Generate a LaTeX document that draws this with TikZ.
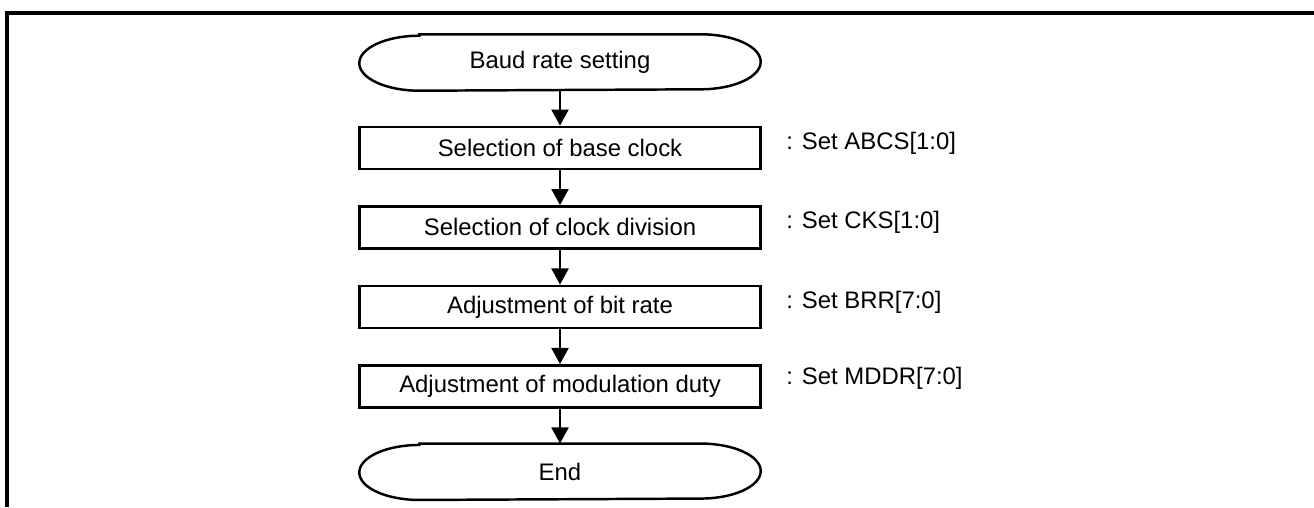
\documentclass[tikz,border=0pt]{standalone}
\usepackage{fontspec}
\setmainfont{Liberation Sans}
\usepackage{tikz}
\usetikzlibrary{arrows.meta,positioning}
\tikzstyle{arrow}=[draw, line width=0.75pt, -{Triangle[length=4.6pt,width=4.8pt]}]
\tikzstyle{stepbox}=[draw, line width=0.7pt, minimum width=4.01cm, minimum height=0.42cm, inner sep=0pt]
\tikzstyle{term}=[minimum width=2.8cm, minimum height=0.55cm, inner sep=0pt]
\tikzstyle{note}=[anchor=west, inner sep=0pt]
% outline of a terminal node
\newcommand{\termline}[1]{\draw[line width=0.7pt] (#1.north west) -- (#1.north east)
  arc[start angle=90, end angle=-90, x radius=0.6cm, y radius=0.275cm] -- (#1.south west)
  arc[start angle=270, end angle=90, x radius=0.6cm, y radius=0.275cm] -- cycle;}

\begin{document}
\begin{tikzpicture}[node distance=0.35cm, font=\fontsize{6.8pt}{8pt}\selectfont]
\useasboundingbox (0,0) rectangle (13.14,5.07);
\draw[line width=1pt] (0.07,0) -- (0.07,4.94) -- (13.14,4.94); % frame
\node[term] (start) at (5.60,4.445) {Baud rate setting};
\termline{start}
\node[stepbox, below=of start] (base) {Selection of base clock};
\node[stepbox, below=of base] (div) {Selection of clock division};
\node[stepbox, below=of div] (bitrate) {Adjustment of bit rate};
\node[stepbox, below=of bitrate] (duty) {Adjustment of modulation duty};
\node[term, below=of duty] (end) {End};
\termline{end}
\path [arrow] (start) -- (base);
\path [arrow] (base) -- (div);
\path [arrow] (div) -- (bitrate);
\path [arrow] (bitrate) -- (duty);
\path [arrow] (duty) -- (end);
% register notes
\node[note] (nbase) at ([xshift=0.24cm, yshift=0.05cm]base.east) {: Set ABCS[1:0]};
\node[note] (ndiv) at ([xshift=0.24cm, yshift=0.05cm]div.east) {: Set CKS[1:0]};
\node[note] (nbitrate) at ([xshift=0.24cm, yshift=0.05cm]bitrate.east) {: Set BRR[7:0]};
\node[note] (nduty) at ([xshift=0.24cm, yshift=0.08cm]duty.east) {: Set MDDR[7:0]};
\end{tikzpicture}
\end{document}
